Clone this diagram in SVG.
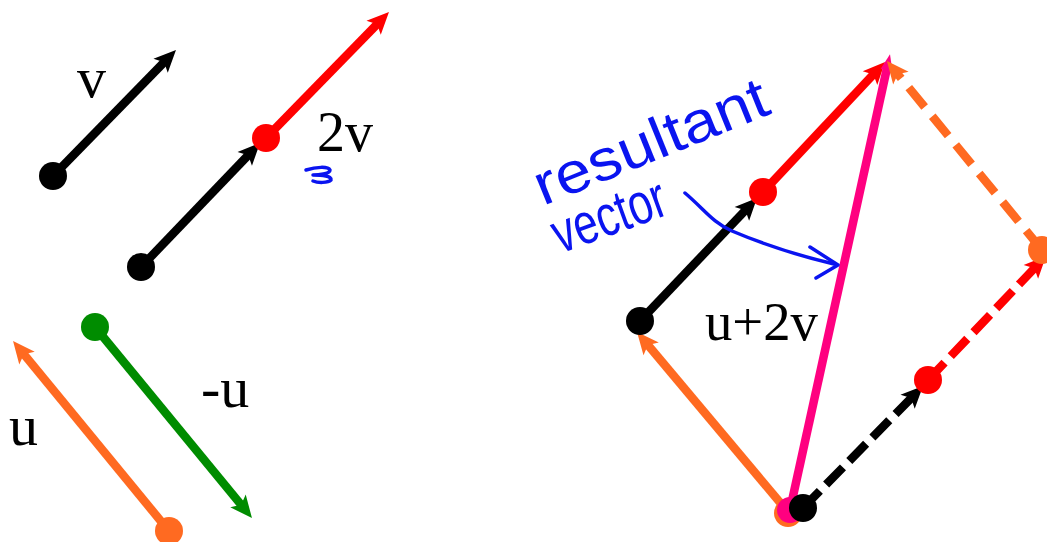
<svg xmlns="http://www.w3.org/2000/svg" width="1047" height="542" viewBox="0 0 1047 542">
<style>
.ln{fill:none;stroke-width:8.5;stroke-linecap:butt}
.k{stroke:#000}.r{stroke:#ff0000}.o{stroke:#ff6a21}.g{stroke:#008c00}.p{stroke:#ff0080}
.dash1{stroke-dasharray:24 9}
.dash2{stroke-dasharray:25 12}
.lbl{font-family:"Liberation Serif","Times New Roman",serif;fill:#000}
.hw{font-family:"Liberation Sans",Arial,sans-serif;fill:#0a14f0}
.hwl{fill:none;stroke:#0a14f0;stroke-width:3.5;stroke-linecap:round;stroke-linejoin:round}
</style>
<defs>
<marker id="ak" markerUnits="userSpaceOnUse" viewBox="-8 -12 26 24" markerWidth="26" markerHeight="24" refX="0" refY="0" orient="auto"><path d="M16,0 L-6,-10 L-1,0 L-6,10 Z" fill="#000"/></marker>
<marker id="ar" markerUnits="userSpaceOnUse" viewBox="-8 -12 26 24" markerWidth="26" markerHeight="24" refX="0" refY="0" orient="auto"><path d="M16,0 L-6,-10 L-1,0 L-6,10 Z" fill="#ff0000"/></marker>
<marker id="ao" markerUnits="userSpaceOnUse" viewBox="-8 -12 26 24" markerWidth="26" markerHeight="24" refX="0" refY="0" orient="auto"><path d="M16,0 L-6,-10 L-1,0 L-6,10 Z" fill="#ff6a21"/></marker>
<marker id="ag" markerUnits="userSpaceOnUse" viewBox="-8 -12 26 24" markerWidth="26" markerHeight="24" refX="0" refY="0" orient="auto"><path d="M16,0 L-6,-10 L-1,0 L-6,10 Z" fill="#008c00"/></marker>
<marker id="ap" markerUnits="userSpaceOnUse" viewBox="-8 -12 26 24" markerWidth="26" markerHeight="24" refX="0" refY="0" orient="auto"><path d="M14,0 L-2,-6 L-2,6 Z" fill="#ff0080"/></marker>
</defs>

<g id="connectors">
  <!-- left -->
  <line class="ln k" x1="53" y1="176" x2="164.8" y2="61.5" marker-end="url(#ak)"/>
  <line class="ln k" x1="141" y1="267" x2="248.9" y2="154.5" marker-end="url(#ak)"/>
  <line class="ln r" x1="266" y1="138" x2="377.8" y2="23.5" marker-end="url(#ar)"/>
  <line class="ln o" x1="169" y1="531" x2="23.2" y2="353.4" marker-end="url(#ao)"/>
  <line class="ln g" x1="95" y1="327" x2="241.8" y2="505.6" marker-end="url(#ag)"/>
  <!-- right -->
  <line class="ln k" x1="640" y1="321" x2="746" y2="209.6" marker-end="url(#ak)"/>
  <line class="ln r" x1="763" y1="192" x2="874.1" y2="73.7" marker-end="url(#ar)"/>
  <line class="ln o" x1="788" y1="512" x2="647.3" y2="344.3" marker-end="url(#ao)"/>
  <line class="ln p" x1="790" y1="510" x2="887" y2="68" marker-end="url(#ap)"/>
  <line class="ln o dash2" x1="1042" y1="250" x2="897.1" y2="73.4" marker-end="url(#ao)"/>
  <line class="ln r dash1" x1="928" y1="380" x2="1035" y2="267.6" marker-end="url(#ar)"/>
  <line class="ln k dash1" x1="803" y1="508" x2="911.8" y2="397.4" marker-end="url(#ak)"/>
</g>

<g id="dots">
  <circle id="dot-v" cx="53" cy="176" r="14" fill="#000"/>
  <circle id="dot-2v-start" cx="141" cy="267" r="14" fill="#000"/>
  <circle id="dot-2v-mid" cx="266" cy="138" r="14" fill="#ff0000"/>
  <circle id="dot-u" cx="169" cy="531" r="14" fill="#ff6a21"/>
  <circle id="dot-negu" cx="95" cy="327" r="14" fill="#008c00"/>
  <circle id="dot-r-black" cx="640" cy="321" r="14" fill="#000"/>
  <circle id="dot-r-red" cx="763" cy="192" r="14" fill="#ff0000"/>
  <circle id="dot-r-orange" cx="788" cy="513" r="14" fill="#ff6a21"/>
  <circle id="dot-r-pink" cx="790" cy="510" r="13" fill="#ff0080"/>
  <circle id="dot-r-black2" cx="803" cy="508" r="14" fill="#000"/>
  <circle id="dot-r-red2" cx="928" cy="380" r="14" fill="#ff0000"/>
  <circle id="dot-r-orange2" cx="1042" cy="250" r="14" fill="#ff6a21"/>
</g>

<g id="labels">
  <text class="lbl" x="77" y="97" font-size="58">v</text>
  <text class="lbl" x="317" y="151" font-size="56">2v</text>
  <text class="lbl" x="9" y="445" font-size="58">u</text>
  <text class="lbl" x="201" y="407" font-size="58">-u</text>
  <text class="lbl" x="705" y="340" font-size="54" textLength="113" lengthAdjust="spacingAndGlyphs">u+2v</text>
</g>

<g id="handwriting">
  <text class="hw" x="543" y="206" font-size="58" transform="rotate(-22 543 206)" textLength="248" lengthAdjust="spacingAndGlyphs">resultant</text>
  <text class="hw" x="560" y="254" font-size="58" transform="rotate(-20 560 254)" textLength="118" lengthAdjust="spacingAndGlyphs">vector</text>
  <path class="hwl" d="M685,193 C705,210 712,222 732,231 C765,245 800,256 834,264"/>
  <path class="hwl" d="M810,247 L838,265 L816,278"/>
  <path class="hwl" stroke-width="4" d="M306,170 C316,167 328,166 330,170 C330,174 318,175 313,175 C322,175 332,176 331,180 C328,183 318,183 313,181"/>
</g>
</svg>
